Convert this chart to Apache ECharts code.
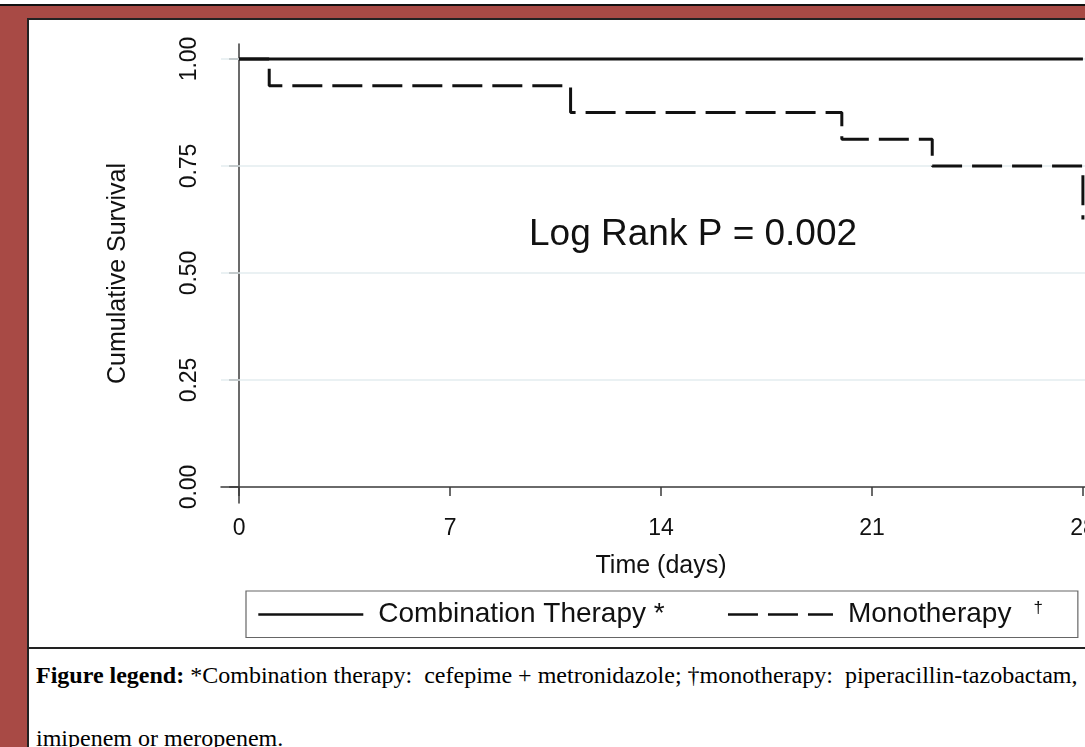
<!DOCTYPE html>
<html>
<head>
<meta charset="utf-8">
<script src="https://cdn.jsdelivr.net/npm/echarts@6/dist/echarts.min.js"></script>
<style>
  html, body { margin:0; padding:0; width:1085px; height:747px; overflow:hidden; background:#fff; }
  #frame { position:absolute; left:0; top:4px; width:1300px; height:800px; border-top:2px solid #111; background:#A84A45; }
  #panel { position:absolute; left:27px; top:18px; width:1300px; height:800px; background:#fff; border-top:2px solid #222; border-left:2px solid #222; }
  #rule { position:absolute; left:28px; top:647px; width:1300px; height:2px; background:#222; }
  #chart { position:absolute; left:0; top:0; width:1200px; height:650px; }
  .cap { position:absolute; left:36px; font-family:"Liberation Serif","Times New Roman",serif; font-size:24px; line-height:30px; color:#000; white-space:nowrap; }
</style>
</head>
<body>
<div id="frame"></div>
<div id="panel"></div>
<div id="rule"></div>
<div id="chart"></div>
<div class="cap" style="top:660px;"><b>Figure legend:</b> *Combination therapy:&nbsp; cefepime + metronidazole; †monotherapy:&nbsp; piperacillin-tazobactam,</div>
<div class="cap" style="top:723px;">imipenem or meropenem.</div>
<script>
// ---- data ----
const comboDays = [0, 28];
const comboSurv = [1, 1];
const monoDays = [0, 1, 11, 20, 23, 28];
const monoSurv = [1, 0.9375, 0.875, 0.8125, 0.75, 0.625];
const xTicks = [0, 7, 14, 21, 28];
const yTicks = [0, 0.25, 0.5, 0.75, 1];
const gridLevels = [0.25, 0.5, 0.75, 1];
const seriesNames = ['Combination Therapy *', 'Monotherapy'];
const annotation = 'Log Rank P = 0.002';
const xTitle = 'Time (days)';
const yTitle = 'Cumulative Survival';

const FONT = '"Liberation Sans", Arial, Helvetica, sans-serif';
const chart = echarts.init(document.getElementById('chart'), null, {renderer:'canvas'});
const pairs = (xs, ys) => xs.map((x, i) => [x, ys[i]]);

chart.setOption({
  backgroundColor: 'transparent',
  animation: false,
  grid: { left: 221, top: 44, width: 880, height: 459, containLabel: false },
  xAxis: {
    type: 'value', min: -0.6, max: 28.6,
    name: xTitle, nameLocation: 'middle', nameGap: 51,
    nameTextStyle: { fontFamily: FONT, fontSize: 25, color: '#111' },
    axisLine: { show: true, lineStyle: { color: '#3a3a3a', width: 1.5 } },
    axisTick: { show: true, length: 9, lineStyle: { color: '#3a3a3a', width: 1.5 }, customValues: xTicks },
    axisLabel: { customValues: xTicks, margin: 14, fontFamily: FONT, fontSize: 23, color: '#111' },
    splitLine: { show: false }
  },
  yAxis: {
    type: 'value', min: -0.0374, max: 1.035,
    name: yTitle, nameLocation: 'middle', nameGap: 90, nameRotate: 90,
    nameTextStyle: { fontFamily: FONT, fontSize: 25, color: '#111' },
    axisLine: { show: true, lineStyle: { color: '#3a3a3a', width: 1.5 } },
    axisTick: { show: true, length: 10, lineStyle: { color: '#3a3a3a', width: 1.5 }, customValues: yTicks },
    axisLabel: { customValues: yTicks, rotate: 90, margin: 20, fontFamily: FONT, fontSize: 23, color: '#111',
                 formatter: v => v.toFixed(2) },
    splitLine: { show: false }
  },
  legend: {
    left: 246, top: 591,
    orient: 'horizontal',
    padding: [9, 35, 9, 11],
    itemGap: 62,
    itemWidth: 105, itemHeight: 14,
    borderColor: '#666', borderWidth: 1.2, borderRadius: 0,
    backgroundColor: '#fff',
    itemStyle: { color: 'transparent', borderWidth: 0, opacity: 0 },
    lineStyle: { width: 2.6 },
    textStyle: { fontFamily: FONT, fontSize: 28, color: '#111', padding: [0, 0, 0, 10],
      rich: { sup: { fontFamily: FONT, fontSize: 17, color: '#111', verticalAlign: 'top', padding: [0, 0, 12, 22] } } },
    formatter: n => n === 'Monotherapy' ? n + '{sup|†}' : n,
    data: seriesNames
  },
  graphic: [{
    type: 'text', left: 529, top: 216, silent: true,
    style: { text: annotation, fontFamily: FONT, fontSize: 37, fill: '#111' }
  }],
  series: [
    {
      name: 'grid', type: 'line', data: [], silent: true, z: 1,
      markLine: { silent: true, z: 1, symbol: ['none','none'], label: { show: false },
        lineStyle: { color: '#E3ECEF', width: 1.5, type: 'solid' },
        emphasis: { disabled: true },
        data: gridLevels.map(v => ({ yAxis: v })) }
    },
    {
      name: seriesNames[0], type: 'line', step: 'end', z: 3,
      symbol: 'none', showSymbol: false,
      lineStyle: { color: '#111', width: 3, type: 'solid' },
      itemStyle: { color: '#111' },
      data: pairs(comboDays, comboSurv)
    },
    {
      name: seriesNames[1], type: 'line', step: 'end', z: 3,
      symbol: 'none', showSymbol: false,
      lineStyle: { color: '#111', width: 3, type: [30, 10], cap: 'butt' },
      itemStyle: { color: '#111' },
      data: pairs(monoDays, monoSurv)
    }
  ]
});
</script>
</body>
</html>
